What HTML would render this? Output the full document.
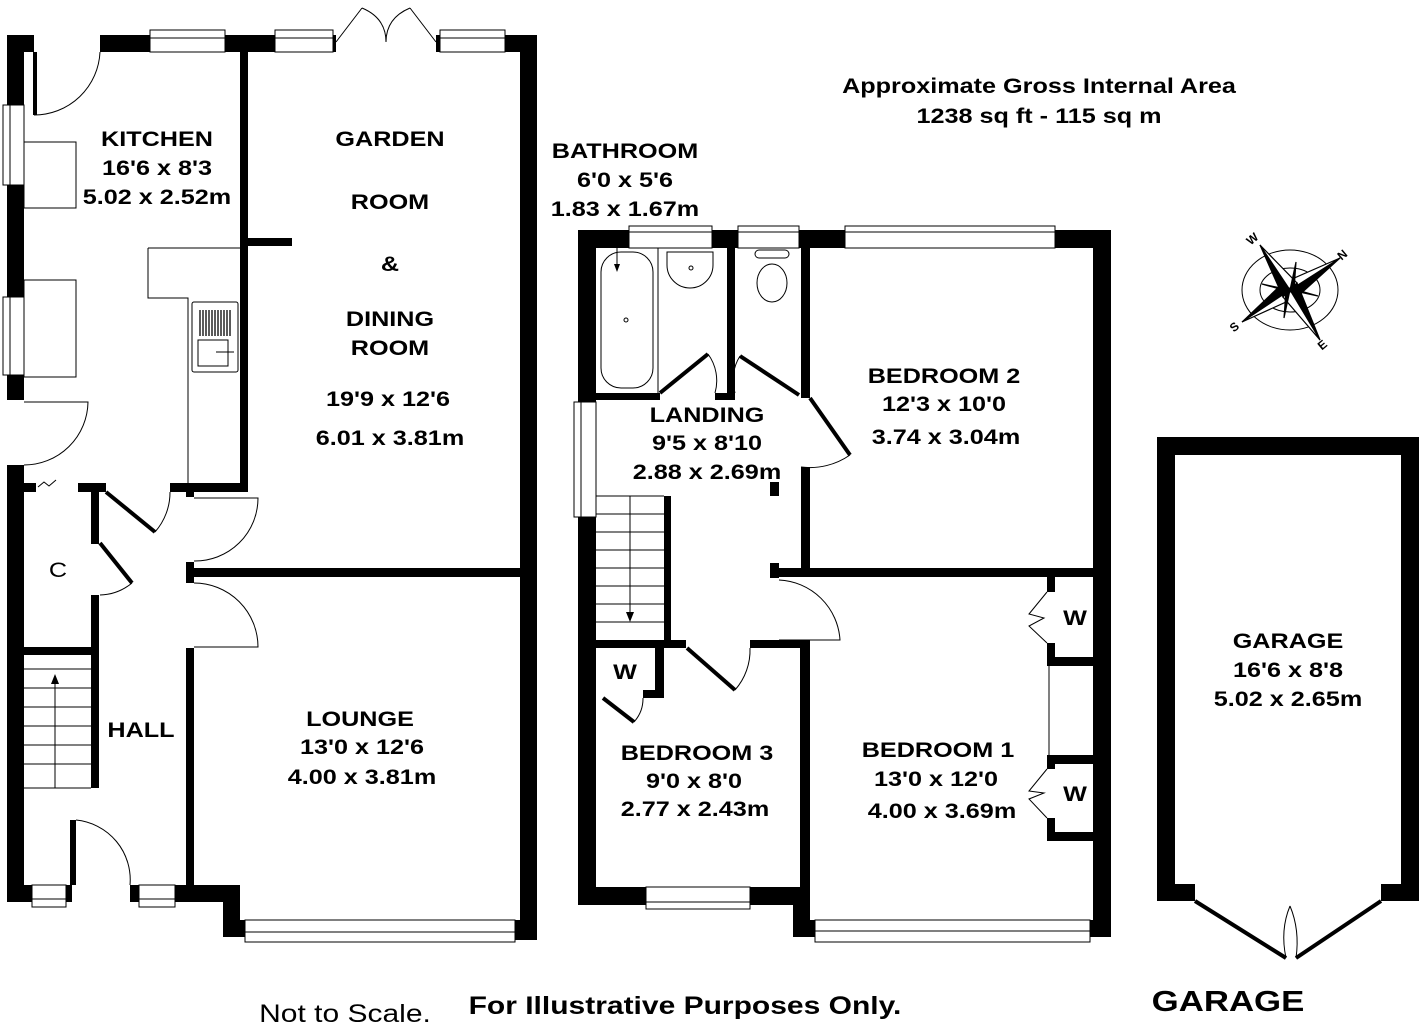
<!DOCTYPE html>
<html><head><meta charset="utf-8"><style>
html,body{margin:0;padding:0;background:#fff}
svg{display:block}
text{font-family:"Liberation Sans",Arial,sans-serif;font-weight:bold;fill:#000;text-anchor:middle}
.t{stroke:#000;stroke-width:1;fill:none}
.d{stroke:#000;stroke-width:4;fill:none}
.w{fill:#fff;stroke:#000;stroke-width:1}
</style></head><body>
<svg width="1424" height="1032" viewBox="0 0 1424 1032" xmlns="http://www.w3.org/2000/svg">
<g fill="#000">
<rect x="7" y="35" width="27" height="17"/>
<rect x="100" y="35" width="50" height="17"/>
<rect x="225" y="35" width="50" height="17"/>
<rect x="333" y="35" width="3" height="17"/>
<rect x="436" y="35" width="4" height="17"/>
<rect x="505" y="35" width="32" height="17"/>
<rect x="520" y="35" width="17" height="905"/>
<rect x="7" y="35" width="17" height="70"/>
<rect x="7" y="185" width="17" height="112"/>
<rect x="7" y="375" width="17" height="25"/>
<rect x="7" y="465" width="17" height="437"/>
<rect x="240" y="52" width="8" height="440"/>
<rect x="248" y="238" width="44" height="8"/>
<rect x="24" y="483" width="12" height="9"/>
<rect x="78" y="483" width="28" height="9"/>
<rect x="170" y="483" width="78" height="9"/>
<rect x="186" y="483" width="8" height="14"/>
<rect x="91" y="492" width="8" height="52"/>
<rect x="91" y="595" width="8" height="193"/>
<rect x="24" y="647" width="67" height="8"/>
<rect x="186" y="562" width="8" height="21"/>
<rect x="194" y="568" width="326" height="9"/>
<rect x="186" y="648" width="8" height="240"/>
<rect x="7" y="885" width="25" height="17"/>
<rect x="66" y="885" width="6" height="17"/>
<rect x="70" y="820" width="6" height="65"/>
<rect x="130" y="885" width="9" height="17"/>
<rect x="175" y="885" width="48" height="17"/>
<rect x="223" y="885" width="17" height="52"/>
<rect x="240" y="920" width="5" height="17"/>
<rect x="515" y="920" width="22" height="20"/>
<rect x="578" y="230" width="51" height="18"/>
<rect x="712" y="230" width="26" height="18"/>
<rect x="799" y="230" width="46" height="18"/>
<rect x="1055" y="230" width="56" height="18"/>
<rect x="1093" y="230" width="18" height="707"/>
<rect x="578" y="230" width="18" height="172"/>
<rect x="578" y="517" width="18" height="388"/>
<rect x="727" y="248" width="8" height="152"/>
<rect x="596" y="393" width="64" height="7"/>
<rect x="715" y="393" width="20" height="7"/>
<rect x="801" y="248" width="9" height="150"/>
<rect x="801" y="467" width="9" height="110"/>
<rect x="770" y="482" width="9" height="14"/>
<rect x="770" y="563" width="9" height="15"/>
<rect x="779" y="568" width="314" height="9"/>
<rect x="664" y="496" width="7" height="151"/>
<rect x="596" y="640" width="90" height="8"/>
<rect x="750" y="640" width="60" height="8"/>
<rect x="800" y="640" width="10" height="297"/>
<rect x="655" y="648" width="9" height="50"/>
<rect x="643" y="690" width="21" height="8"/>
<rect x="596" y="887" width="50" height="18"/>
<rect x="750" y="887" width="60" height="18"/>
<rect x="793" y="887" width="17" height="50"/>
<rect x="810" y="920" width="5" height="17"/>
<rect x="1090" y="920" width="21" height="17"/>
<rect x="1047" y="577" width="8" height="15"/>
<rect x="1047" y="643" width="8" height="23"/>
<rect x="1055" y="657" width="38" height="9"/>
<rect x="1047" y="755" width="46" height="9"/>
<rect x="1047" y="764" width="8" height="5"/>
<rect x="1047" y="818" width="8" height="14"/>
<rect x="1047" y="832" width="46" height="9"/>
<rect x="1157" y="437" width="262" height="18"/>
<rect x="1157" y="437" width="18" height="464"/>
<rect x="1401" y="437" width="18" height="464"/>
<rect x="1157" y="884" width="38" height="17"/>
<rect x="1381" y="884" width="38" height="17"/>
</g>
<rect class="w" x="150" y="30" width="75" height="22"/><line class="t" x1="150" y1="38" x2="225" y2="38"/>
<rect class="w" x="275" y="30" width="58" height="22"/><line class="t" x1="275" y1="38" x2="333" y2="38"/>
<rect class="w" x="440" y="30" width="65" height="22"/><line class="t" x1="440" y1="38" x2="505" y2="38"/>
<rect class="w" x="3" y="105" width="21" height="80"/><line class="t" x1="10" y1="105" x2="10" y2="185"/>
<rect class="w" x="3" y="297" width="21" height="78"/><line class="t" x1="10" y1="297" x2="10" y2="375"/>
<rect class="w" x="32" y="885" width="34" height="22"/><line class="t" x1="32" y1="899" x2="66" y2="899"/>
<rect class="w" x="139" y="885" width="36" height="22"/><line class="t" x1="139" y1="899" x2="175" y2="899"/>
<rect class="w" x="245" y="920" width="270" height="22"/><line class="t" x1="245" y1="932" x2="515" y2="932"/>
<path class="t" d="M336 42 L362 8 M436 42 L410 8 M362 8 Q386 18 386 42 M410 8 Q386 18 386 42" stroke-width="1.5"/>
<rect class="t" x="24" y="142" width="52" height="66"/>
<rect class="t" x="24" y="280" width="52" height="97"/>
<path class="t" d="M148 248 H240 M148 248 V298 H188 V483"/>
<rect class="t" x="192" y="302" width="46" height="70" rx="2"/>
<g stroke="#000" stroke-width="1.3">
<line x1="200" y1="310" x2="200" y2="336"/><line x1="203" y1="310" x2="203" y2="336"/><line x1="206" y1="310" x2="206" y2="336"/><line x1="209" y1="310" x2="209" y2="336"/><line x1="212" y1="310" x2="212" y2="336"/><line x1="215" y1="310" x2="215" y2="336"/><line x1="218" y1="310" x2="218" y2="336"/><line x1="221" y1="310" x2="221" y2="336"/><line x1="224" y1="310" x2="224" y2="336"/><line x1="227" y1="310" x2="227" y2="336"/><line x1="230" y1="310" x2="230" y2="336"/></g>
<rect class="t" x="198" y="340" width="30" height="26"/>
<line class="t" x1="216" y1="352" x2="234" y2="352"/>
<line class="d" x1="35" y1="52" x2="35" y2="115" stroke-width="3"/>
<path class="t" d="M34 115 A66 66 0 0 0 100 52"/>
<path class="t" d="M24 402 H88 A64 64 0 0 1 24 465"/>
<path class="t" d="M38 487 l6 -5 l5 4 l7 -6"/>
<line class="d" x1="106" y1="492" x2="155" y2="532" stroke-width="3"/>
<path class="t" d="M155 532 A60 60 0 0 0 170 492"/>
<line class="d" x1="100" y1="543" x2="132" y2="583" stroke-width="3"/>
<path class="t" d="M132 583 A52 52 0 0 1 100 595"/>
<path class="t" d="M194 498 H258 A63 63 0 0 1 194 561"/>
<path class="t" d="M194 583 A64 64 0 0 1 258 647 H194"/>
<path class="t" d="M76 820 A60 60 0 0 1 130 885"/>
<g class="t"><line x1="24" y1="669" x2="91" y2="669"/><line x1="24" y1="688" x2="91" y2="688"/><line x1="24" y1="707" x2="91" y2="707"/><line x1="24" y1="726" x2="91" y2="726"/><line x1="24" y1="745" x2="91" y2="745"/><line x1="24" y1="764" x2="91" y2="764"/><line x1="24" y1="788" x2="91" y2="788"/><line x1="55" y1="788" x2="55" y2="680"/></g>
<path d="M55 674 l-4 10 h8 z" fill="#000"/>
<rect class="w" x="629" y="226" width="83" height="22"/><line class="t" x1="629" y1="232" x2="712" y2="232"/>
<rect class="w" x="738" y="226" width="61" height="22"/><line class="t" x1="738" y1="232" x2="799" y2="232"/>
<rect class="w" x="845" y="226" width="210" height="22"/><line class="t" x1="845" y1="232" x2="1055" y2="232"/>
<rect class="w" x="574" y="402" width="22" height="115"/><line class="t" x1="581" y1="402" x2="581" y2="517"/>
<rect class="w" x="646" y="887" width="104" height="22"/><line class="t" x1="646" y1="902" x2="750" y2="902"/>
<rect class="w" x="815" y="920" width="275" height="22"/><line class="t" x1="815" y1="931" x2="1090" y2="931"/>
<rect class="t" x="601" y="252" width="52" height="136" rx="20"/>
<line class="t" x1="658" y1="248" x2="658" y2="393"/>
<line class="t" x1="617" y1="240" x2="617" y2="270"/><path d="M617 272 l-3 -8 h6 z"/>
<circle class="t" cx="626" cy="320" r="2"/>
<path class="t" d="M667 252 H713 V265 A23 23 0 0 1 667 265 Z"/>
<circle class="t" cx="691" cy="268" r="2"/>
<ellipse class="t" cx="772" cy="283" rx="15" ry="19"/>
<rect class="t" x="755" y="250" width="34" height="8" rx="4"/>
<line class="d" x1="660" y1="393" x2="708" y2="354" stroke-width="3"/><path class="t" d="M708 354 A45 45 0 0 1 715 393"/>
<line class="d" x1="740" y1="356" x2="799" y2="395" stroke-width="3"/><path class="t" d="M740 356 A45 45 0 0 0 735 393"/>
<line class="d" x1="810" y1="398" x2="850" y2="455" stroke-width="3"/><path class="t" d="M850 455 A70 70 0 0 1 801 467"/>
<path class="t" d="M779 580 A64 64 0 0 1 840 640 H779"/>
<line class="d" x1="687" y1="648" x2="735" y2="690" stroke-width="3"/><path class="t" d="M735 690 A60 60 0 0 0 750 648"/>
<line class="d" x1="603" y1="698" x2="634" y2="722" stroke-width="3"/><path class="t" d="M634 722 A35 35 0 0 0 643 698"/>
<path class="t" d="M1047 592 l-18 22 l15 4 l-15 8 l18 17" stroke-width="2"/>
<path class="t" d="M1047 769 l-18 22 l15 2 l-15 6 l18 19" stroke-width="2"/>
<line class="t" x1="1049" y1="666" x2="1049" y2="755"/>
<g class="t"><line x1="596" y1="496" x2="664" y2="496"/><line x1="596" y1="514" x2="664" y2="514"/><line x1="596" y1="532" x2="664" y2="532"/><line x1="596" y1="550" x2="664" y2="550"/><line x1="596" y1="568" x2="664" y2="568"/><line x1="596" y1="586" x2="664" y2="586"/><line x1="596" y1="604" x2="664" y2="604"/><line x1="596" y1="622" x2="664" y2="622"/><line x1="630" y1="496" x2="630" y2="615"/></g>
<path d="M630 622 l-4 -10 h8 z"/>
<path class="d" d="M1195 901 L1286 958 M1381 901 L1296 958" stroke-width="3"/>
<path class="t" d="M1290 906 Q1300 930 1296 958 M1290 906 Q1280 930 1286 958"/>
<ellipse class="t" cx="1290" cy="290" rx="48" ry="40" stroke-width="1.8"/>
<ellipse class="t" cx="1290" cy="290" rx="30" ry="22" stroke-width="1.3"/>
<g stroke="#000" stroke-width="1.2">
<path d="M1290 290 L1340 258 L1297 297 Z" fill="#000"/><path d="M1290 290 L1340 258 L1283 283 Z" fill="#fff"/>
<path d="M1290 290 L1242 322 L1283 283 Z" fill="#000"/><path d="M1290 290 L1242 322 L1297 297 Z" fill="#fff"/>
<path d="M1290 290 L1260 245 L1283 297 Z" fill="#000"/><path d="M1290 290 L1260 245 L1297 283 Z" fill="#fff"/>
<path d="M1290 290 L1320 340 L1297 283 Z" fill="#000"/><path d="M1290 290 L1320 340 L1283 297 Z" fill="#fff"/>
<path d="M1290 290 L1296 262 L1294 290 Z" fill="#000"/><path d="M1290 290 L1284 318 L1286 290 Z" fill="#000"/>
<path d="M1290 290 L1262 284 L1290 292 Z" fill="#000"/><path d="M1290 290 L1318 296 L1290 288 Z" fill="#000"/>
</g>
<g style="font-size:12px;font-family:'Liberation Serif',serif">
<text x="1255" y="242" transform="rotate(-40 1255 242)">W</text>
<text x="1345" y="258" transform="rotate(-40 1345 258)">N</text>
<text x="1237" y="330" transform="rotate(-40 1237 330)">S</text>
<text x="1325" y="348" transform="rotate(-40 1325 348)">E</text>
</g>
<g style="font-size:21px">
<text class="s" x="157" y="146">KITCHEN</text><text class="s" x="157" y="175">16'6 x 8'3</text><text class="s" x="157" y="204">5.02 x 2.52m</text>
<text class="s" x="390" y="146">GARDEN</text><text class="s" x="390" y="209">ROOM</text><text class="s" x="390" y="271">&amp;</text><text class="s" x="390" y="326">DINING</text><text class="s" x="390" y="355">ROOM</text>
<text class="s" x="388" y="406">19'9 x 12'6</text><text class="s" x="390" y="445">6.01 x 3.81m</text>
<text class="s" x="141" y="737">HALL</text>
<text class="s" x="360" y="726">LOUNGE</text><text class="s" x="362" y="754">13'0 x 12'6</text><text class="s" x="362" y="784">4.00 x 3.81m</text>
<text class="s" x="625" y="158">BATHROOM</text><text class="s" x="625" y="187">6'0 x 5'6</text><text class="s" x="625" y="216">1.83 x 1.67m</text>
<text class="s" x="707" y="422">LANDING</text><text class="s" x="707" y="450">9'5 x 8'10</text><text class="s" x="707" y="479">2.88 x 2.69m</text>
<text class="s" x="944" y="383">BEDROOM 2</text><text class="s" x="944" y="411">12'3 x 10'0</text><text class="s" x="946" y="444">3.74 x 3.04m</text>
<text class="s" x="697" y="760">BEDROOM 3</text><text class="s" x="694" y="788">9'0 x 8'0</text><text class="s" x="695" y="816">2.77 x 2.43m</text>
<text class="s" x="938" y="757">BEDROOM 1</text><text class="s" x="936" y="786">13'0 x 12'0</text><text class="s" x="942" y="818">4.00 x 3.69m</text>
<text class="s" x="1288" y="648">GARAGE</text><text class="s" x="1288" y="677">16'6 x 8'8</text><text class="s" x="1288" y="706">5.02 x 2.65m</text>
<text class="s" x="1039" y="93">Approximate Gross Internal Area</text><text class="s" x="1039" y="123">1238 sq ft - 115 sq m</text>
<text class="s" x="1075" y="625">W</text><text class="s" x="1075" y="801">W</text><text class="s" x="625" y="679">W</text>
<text class="s" x="685" y="1014" style="font-size:25px">For Illustrative Purposes Only.</text>
<text class="s" x="1228" y="1011" style="font-size:29px">GARAGE</text>
</g>
<text class="s" x="58" y="577" style="font-size:21px;font-weight:normal">C</text>
<text class="s" x="345" y="1022" style="font-size:25px;font-weight:normal">Not to Scale.</text>
</svg>
<script>
document.querySelectorAll('text.s').forEach(function(t){var x=t.getAttribute('x');t.setAttribute('transform','translate('+x+' 0) scale(1.2 1) translate('+(-x)+' 0)');});
</script>
</body></html>
